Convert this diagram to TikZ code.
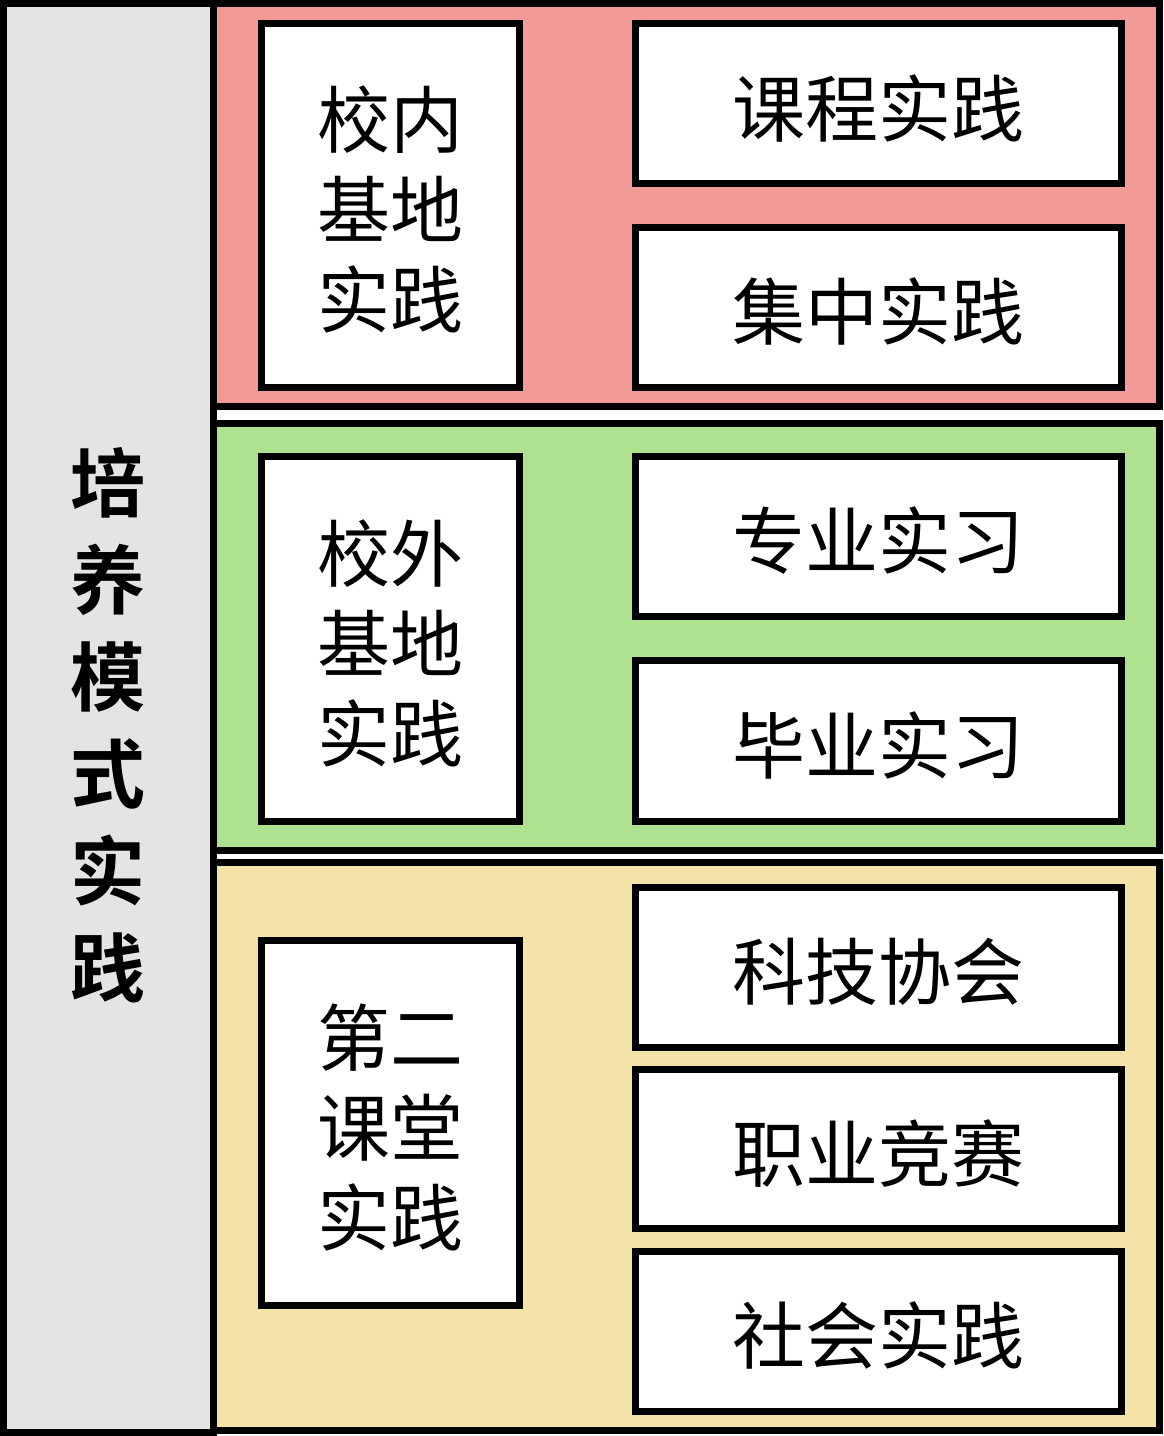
\documentclass[tikz,border=0pt]{standalone}
\usepackage{fontspec}
\newfontfamily\cjk{Noto Sans CJK SC}
\newfontfamily\cjkbold{Noto Sans CJK SC Bold}
\definecolor{panelgray}{HTML}{E6E3E4}
\definecolor{panelpink}{HTML}{F19A96}
\definecolor{panelgreen}{HTML}{AFE28E}
\definecolor{panelyellow}{HTML}{F3E3A6}
\newcommand\lowered[1]{\raisebox{-14.5pt}[\height][\depth]{\begin{tabular}{@{}c@{}}#1\end{tabular}}}
\begin{document}
\begin{tikzpicture}[x=1pt,y=-1pt,
  panel/.style={draw=black,line width=7pt,rectangle,inner sep=0pt,outer sep=0pt},
  box/.style={draw=black,line width=7pt,fill=white,rectangle,inner sep=0pt,outer sep=0pt,
    font=\cjk\fontsize{73}{90}\selectfont},
  leftbox/.style={box,minimum width=258pt},
  rightbox/.style={box,minimum width=486pt,minimum height=160pt}
]
\useasboundingbox (0,0) rectangle (1164,1436);
% panels
\node[panel,fill=panelgray,minimum width=210pt,minimum height=1428.5pt] (main) at (108.5,717.75) {};
\node[panel,fill=panelpink,minimum width=946pt,minimum height=403pt] (pink) at (686.5,205) {};
\node[panel,fill=panelgreen,minimum width=946pt,minimum height=427pt] (green) at (686.5,637) {};
\node[panel,fill=panelyellow,minimum width=946pt,minimum height=567.5pt] (yellow) at (686.5,1146.25) {};
% title
\node[font=\cjkbold\fontsize{75}{97}\selectfont,align=center,inner sep=0pt] (title) at (108,725) {培\\养\\模\\式\\实\\践};
% pink section
\node[leftbox,minimum height=363.5pt] (a) at (390.5,205.25) {\lowered{校内\\基地\\实践}};
\node[rightbox] (a1) at (878,103.5) {\lowered{课程实践}};
\node[rightbox] (a2) at (878,307) {\lowered{集中实践}};
% green section
\node[leftbox,minimum height=365pt] (b) at (390.5,638.5) {\lowered{校外\\基地\\实践}};
\node[rightbox] (b1) at (878,536) {\lowered{专业实习}};
\node[rightbox,minimum height=161pt] (b2) at (878,740.5) {\lowered{毕业实习}};
% yellow section
\node[leftbox,minimum height=365pt] (c) at (390.5,1122.5) {\lowered{第二\\课堂\\实践}};
\node[rightbox] (c1) at (878,967) {\lowered{科技协会}};
\node[rightbox,minimum height=159pt] (c2) at (878,1148.5) {\lowered{职业竞赛}};
\node[rightbox] (c3) at (878,1331) {\lowered{社会实践}};
\end{tikzpicture}
\end{document}
